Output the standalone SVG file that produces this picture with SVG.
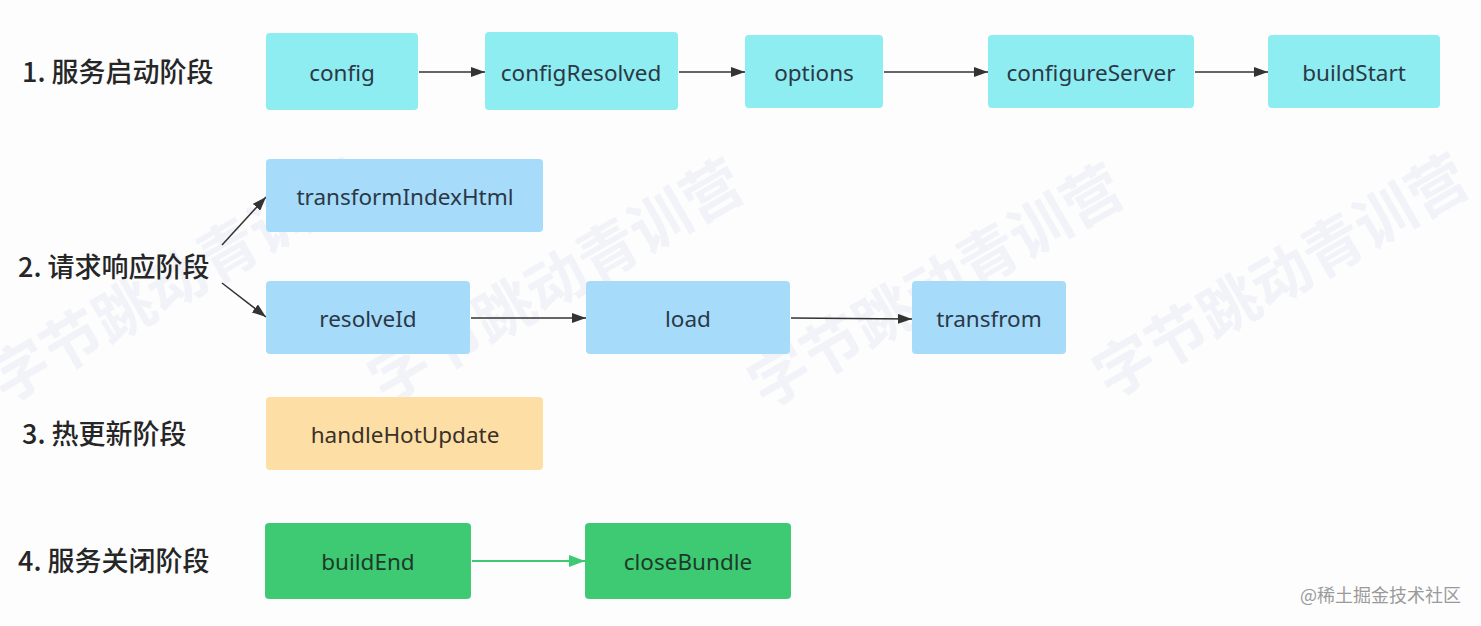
<svg xmlns="http://www.w3.org/2000/svg" width="1481" height="626" viewBox="0 0 1481 626">
<defs>
<style>
.bg{fill:#fdfdfe}
.wm{font-family:"Noto Sans CJK SC",sans-serif;font-size:60px;font-weight:700;fill:#e4e9f3;opacity:0.45}
.stage{font-family:"Noto Sans CJK SC","Noto Sans",sans-serif;font-size:27px;font-weight:500;fill:#262626}
.n rect{rx:4;ry:4}
.cyan rect{fill:#8eedf0}
.blue rect{fill:#a6dcfa}
.orange rect{fill:#fddfa6}
.green rect{fill:#3dca72}
.n text{font-family:"Noto Sans","Open Sans",sans-serif;font-size:22.5px;fill:#2b3847;text-anchor:middle;dominant-baseline:central}
.green text{fill:#1f3a2a}
.orange text{fill:#3a3128}
.e{stroke:#333;stroke-width:1.5;fill:none;marker-end:url(#ah)}
.eg{stroke:#3dca72;stroke-width:2;fill:none;marker-end:url(#ahg)}
.credit{font-family:"Noto Sans CJK SC",sans-serif;font-size:18px;fill:#9a9a9a}
</style>
<marker id="ah" viewBox="0 0 14 10" refX="14" refY="5" markerWidth="14" markerHeight="10" markerUnits="userSpaceOnUse" orient="auto">
<path d="M0,0 L14,5 L0,10 Z" fill="#333"/>
</marker>
<marker id="ahg" viewBox="0 0 16 12" refX="16" refY="6" markerWidth="16" markerHeight="12" markerUnits="userSpaceOnUse" orient="auto">
<path d="M0,0 L16,6 L0,12 Z" fill="#3dca72"/>
</marker>
</defs>
<rect class="bg" x="0" y="0" width="1481" height="626"/>
<g id="watermark">
<text class="wm" transform="translate(5,405) rotate(-30)">字节跳动青训营</text>
<text class="wm" transform="translate(385,405) rotate(-30)">字节跳动青训营</text>
<text class="wm" transform="translate(765,410) rotate(-30)">字节跳动青训营</text>
<text class="wm" transform="translate(1110,400) rotate(-30)">字节跳动青训营</text>
</g>
<g id="stages">
<text class="stage" x="22" y="82">1. 服务启动阶段</text>
<text class="stage" x="18" y="277">2. 请求响应阶段</text>
<text class="stage" x="22" y="444">3. 热更新阶段</text>
<text class="stage" x="18" y="571">4. 服务关闭阶段</text>
</g>
<g id="connectors">
<line class="e" x1="419" y1="72" x2="485" y2="72"/>
<line class="e" x1="679" y1="72" x2="745" y2="72"/>
<line class="e" x1="884" y1="72" x2="988" y2="72"/>
<line class="e" x1="1195" y1="72" x2="1268" y2="72"/>
<line class="e" x1="222" y1="245" x2="266" y2="197"/>
<line class="e" x1="222" y1="283" x2="266" y2="317"/>
<line class="e" x1="471" y1="318" x2="586" y2="318"/>
<line class="e" x1="791" y1="318" x2="912" y2="319"/>
<line class="eg" x1="472" y1="561" x2="585" y2="561"/>
</g>
<g id="config" class="n cyan"><rect x="266" y="33" width="152" height="77"/><text x="342" y="72">config</text></g>
<g id="configResolved" class="n cyan"><rect x="485" y="32" width="193" height="78"/><text x="581" y="72">configResolved</text></g>
<g id="options" class="n cyan"><rect x="745" y="35" width="138" height="73"/><text x="814" y="72">options</text></g>
<g id="configureServer" class="n cyan"><rect x="988" y="35" width="206" height="73"/><text x="1091" y="72">configureServer</text></g>
<g id="buildStart" class="n cyan"><rect x="1268" y="35" width="172" height="73"/><text x="1354" y="72">buildStart</text></g>
<g id="transformIndexHtml" class="n blue"><rect x="266" y="159" width="277" height="73"/><text x="405" y="196">transformIndexHtml</text></g>
<g id="resolveId" class="n blue"><rect x="266" y="281" width="204" height="73"/><text x="368" y="318">resolveId</text></g>
<g id="load" class="n blue"><rect x="586" y="281" width="204" height="73"/><text x="688" y="318">load</text></g>
<g id="transfrom" class="n blue"><rect x="912" y="281" width="154" height="73"/><text x="989" y="318">transfrom</text></g>
<g id="handleHotUpdate" class="n orange"><rect x="266" y="397" width="277" height="73"/><text x="405" y="434">handleHotUpdate</text></g>
<g id="buildEnd" class="n green"><rect x="265" y="523" width="206" height="76"/><text x="368" y="561">buildEnd</text></g>
<g id="closeBundle" class="n green"><rect x="585" y="523" width="206" height="76"/><text x="688" y="561">closeBundle</text></g>
<text class="credit" x="1300" y="602">@稀土掘金技术社区</text>
</svg>
